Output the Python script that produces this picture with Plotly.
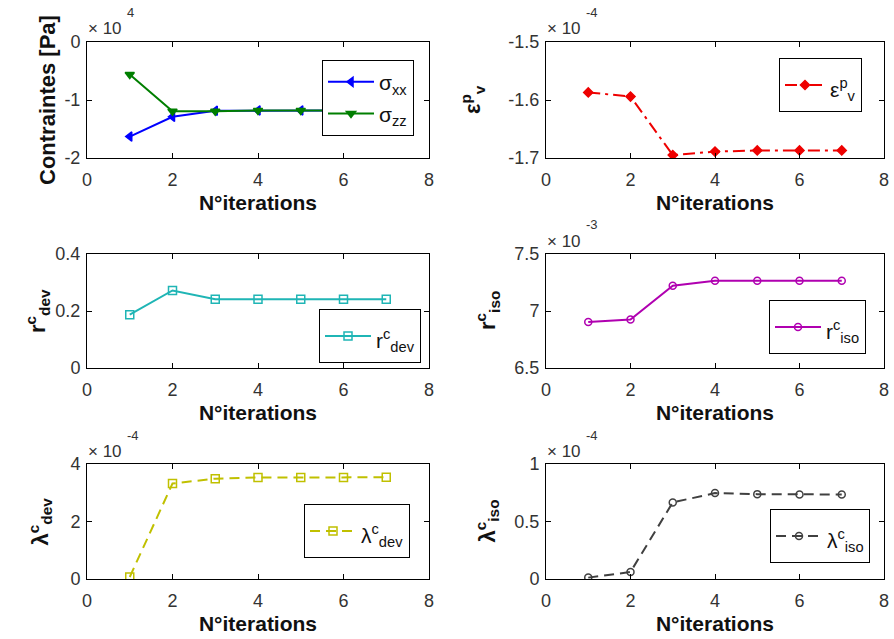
import plotly.graph_objects as go

W, H = 894, 639

iterations = [1, 2, 3, 4, 5, 6, 7]
sigma_xx = [-16300, -12900, -11850, -11800, -11800, -11800, -11800]
sigma_zz = [-5600, -11950, -11950, -11800, -11800, -11800, -11800]
eps_v_p = [-1.587e-4, -1.594e-4, -1.695e-4, -1.689e-4, -1.687e-4, -1.687e-4, -1.687e-4]
r_dev_c = [0.187, 0.272, 0.241, 0.241, 0.241, 0.241, 0.241]
r_iso_c = [6.903e-3, 6.926e-3, 7.221e-3, 7.265e-3, 7.265e-3, 7.265e-3, 7.265e-3]
lambda_dev_c = [0.07e-4, 3.32e-4, 3.49e-4, 3.53e-4, 3.53e-4, 3.53e-4, 3.54e-4]
lambda_iso_c = [0.012e-4, 0.061e-4, 0.666e-4, 0.747e-4, 0.738e-4, 0.735e-4, 0.735e-4]

x_ticks = [0, 2, 4, 6, 8]
x_title = "N°iterations"

FONT = "Liberation Sans, Arial, sans-serif"
DASH = "10px,6px"
DASHDOT = "12px,5px,3px,5px"

# pixel boxes of the six panels: (left, right, top, bottom)
panels = [
    (87, 429, 42, 158), (546, 884, 42, 158),
    (87, 429, 254, 368), (546, 884, 254, 368),
    (87, 429, 464, 579), (546, 884, 464, 579),
]

specs = [
    dict(series=[("σ<sub>xx</sub>", sigma_xx, "#0000ff", "solid", "triangle-left", 8),
                 ("σ<sub>zz</sub>", sigma_zz, "#007f00", "solid", "triangle-down", 8)],
         scale=1e4, exp="4", yrange=[-2, 0], ytick=[-2, -1, 0], yticktext=["-2", "-1", "0"],
         ytitle="Contraintes [Pa]", ytitle_x=47, legend=(322, 60), lfont=22, iw=46),
    dict(series=[("ε<sup>p</sup><sub>v</sub>", eps_v_p, "#ee0000", "dashdot", "diamond", 7)],
         scale=1e-4, exp="-4", yrange=[-1.7, -1.5], ytick=[-1.7, -1.6, -1.5], yticktext=["-1.7", "-1.6", "-1.5"],
         ytitle="ε<sup>p</sup><sub>v</sub>", ytitle_x=472, legend=(779, 58), lfont=30, iw=40),
    dict(series=[("r<sup>c</sup><sub>dev</sub>", r_dev_c, "#1fb5b5", "solid", "square-open", 8)],
         scale=1, exp=None, yrange=[0, 0.4], ytick=[0, 0.2, 0.4], yticktext=["0", "0.2", "0.4"],
         ytitle="r<sup>c</sup><sub>dev</sub>", ytitle_x=38, legend=(319, 309), lfont=30, iw=46),
    dict(series=[("r<sup>c</sup><sub>iso</sub>", r_iso_c, "#b000b0", "solid", "circle-open", 7)],
         scale=1e-3, exp="-3", yrange=[6.5, 7.5], ytick=[6.5, 7, 7.5], yticktext=["6.5", "7", "7.5"],
         ytitle="r<sup>c</sup><sub>iso</sub>", ytitle_x=488, legend=(769, 300), lfont=30, iw=46),
    dict(series=[("λ<sup>c</sup><sub>dev</sub>", lambda_dev_c, "#c0c000", "dash", "square-open", 8)],
         scale=1e-4, exp="-4", yrange=[0, 4], ytick=[0, 2, 4], yticktext=["0", "2", "4"],
         ytitle="λ<sup>c</sup><sub>dev</sub>", ytitle_x=40, legend=(304, 504), lfont=30, iw=46),
    dict(series=[("λ<sup>c</sup><sub>iso</sub>", lambda_iso_c, "#404040", "dash", "circle-open", 7)],
         scale=1e-4, exp="-4", yrange=[0, 1], ytick=[0, 0.5, 1], yticktext=["0", "0.5", "1"],
         ytitle="λ<sup>c</sup><sub>iso</sub>", ytitle_x=487, legend=(770, 509), lfont=30, iw=46),
]

dash_map = {"solid": "solid", "dash": DASH, "dashdot": DASHDOT}

fig = go.Figure()
layout = dict(width=W, height=H, autosize=False, margin=dict(l=0, r=0, t=0, b=0, pad=0),
              paper_bgcolor="white", plot_bgcolor="white",
              font=dict(family=FONT, color="#111"), annotations=[])

for i, (spec, box) in enumerate(zip(specs, panels)):
    n = i + 1
    l, r, t, b = box
    xa = "xaxis" if n == 1 else f"xaxis{n}"
    ya = "yaxis" if n == 1 else f"yaxis{n}"
    xref = "x" if n == 1 else f"x{n}"
    yref = "y" if n == 1 else f"y{n}"
    leg = "legend" if n == 1 else f"legend{n}"
    axis_common = dict(showline=True, linecolor="black", linewidth=1, mirror="allticks",
                       ticks="inside", ticklen=5, tickcolor="black", showgrid=False, zeroline=False,
                       automargin=False, tickfont=dict(size=18, family=FONT, color="#333"))
    layout[xa] = dict(domain=[l / W, r / W], anchor=yref, range=[0, 8], tickvals=x_ticks,
                      ticklabelstandoff=5,
                      title=dict(text=f"<b>{x_title}</b>", font=dict(size=21, family=FONT, color="#111"),
                                 standoff=6),
                      **axis_common)
    layout[ya] = dict(domain=[1 - b / H, 1 - t / H], anchor=xref, range=spec["yrange"],
                      tickvals=spec["ytick"], ticktext=spec["yticktext"], ticklabelstandoff=2,
                      **axis_common)
    # y-axis title, placed as a rotated label left of the tick labels
    layout["annotations"].append(dict(
        x=spec["ytitle_x"] / W, y=1 - (t + b) / 2 / H, xref="paper", yref="paper",
        xanchor="center", yanchor="middle", textangle=-90, showarrow=False,
        text=f"<b>{spec['ytitle']}</b>", font=dict(size=22, family=FONT, color="#111")))
    lx, ly = spec["legend"]
    layout[leg] = dict(x=lx / W, y=1 - ly / H, xanchor="left", yanchor="top",
                       bordercolor="black", borderwidth=1, bgcolor="white", itemwidth=spec["iw"],
                       font=dict(size=spec["lfont"], family=FONT, color="#111"))
    for name, vals, color, dash, sym, ms in spec["series"]:
        fig.add_trace(go.Scatter(
            x=iterations, y=[v / spec["scale"] for v in vals],
            name=f'<span style="font-size:21px">{name}</span>', mode="lines+markers",
            xaxis=xref, yaxis=yref, legend=leg,
            line=dict(color=color, width=2, dash=dash_map[dash]),
            marker=dict(symbol=sym, size=ms, color=color, line=dict(color=color, width=1.5)),
        ))
    if spec["exp"] is not None:
        layout["annotations"].append(dict(
            x=(l - 1) / W, y=1 - (t - 13) / H, xref="paper", yref="paper",
            xanchor="left", yanchor="middle", showarrow=False,
            text="× 10", font=dict(size=17, family=FONT, color="#333")))
        layout["annotations"].append(dict(
            x=(l + 38) / W, y=1 - (t - 29) / H, xref="paper", yref="paper",
            xanchor="left", yanchor="middle", showarrow=False,
            text=spec["exp"], font=dict(size=13, family=FONT, color="#333")))

fig.update_layout(**layout)
fig.write_html("out.html", config={"displayModeBar": False},
               post_script="document.body.style.margin='0';")
